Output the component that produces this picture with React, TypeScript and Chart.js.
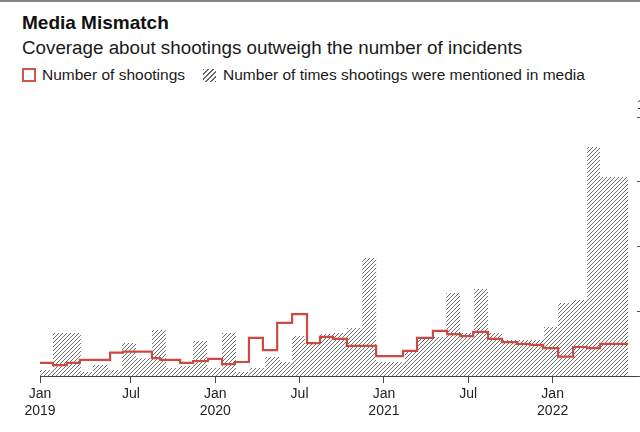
import React, { useEffect, useRef } from "react";
import { Chart, registerables } from "chart.js";

Chart.register(...registerables);

const TITLE = "Media Mismatch";
const SUBTITLE = "Coverage about shootings outweigh the number of incidents";
const LEGEND_SHOOTINGS = "Number of shootings";
const LEGEND_MENTIONS = "Number of times shootings were mentioned in media";

// Step series: week (since start of Jan 2019) at which each level begins, and the level
const shootingWeeks = [0, 4.0, 8.3, 12.3, 21.6, 25.6, 34.5, 37.0, 43.2, 47.2, 51.8, 56.1, 60.1, 64.4, 68.7, 73.1, 77.7, 82.3, 86.3, 90.3, 94.6, 103.6, 111.9, 116.2, 121.1, 125.5, 129.5, 133.5, 138.1, 142.4, 147.0, 151.0, 155.1, 159.7, 164.3, 168.6, 172.6];
const shootingCounts = [51, 42, 51, 62, 90, 94, 69, 62, 51, 58, 66, 46, 54, 147, 100, 205, 239, 127, 151, 143, 116, 77, 97, 147, 174, 162, 154, 170, 143, 131, 124, 120, 108, 75, 112, 108, 124];

const mentionWeeks = [0, 4.0, 12.6, 16.3, 21.0, 25.3, 29.6, 34.5, 38.8, 43.2, 47.2, 51.5, 56.1, 60.4, 64.7, 69.4, 74.0, 77.7, 81.7, 86.3, 90.3, 94.6, 99.3, 103.6, 112.5, 116.5, 125.2, 129.5, 133.8, 138.1, 142.4, 155.4, 159.7, 164.3, 168.6, 172.6];
const mentionCounts = [23, 166, 15, 42, 23, 127, 69, 178, 31, 39, 135, 31, 166, 15, 31, 73, 54, 154, 127, 162, 166, 185, 456, 54, 100, 151, 320, 166, 336, 166, 139, 189, 282, 293, 884, 768];

const lastWeek = 181.3;
const axisEndWeek = 184;

const tickWeeks = [0, 28, 54, 80, 106, 132, 158];
const tickMonths = ["Jan", "Jul", "Jan", "Jul", "Jan", "Jul", "Jan"];
const tickYears = ["2019", "", "2020", "", "2021", "", "2022"];
const yTickValues = [0, 250, 500, 750, 1000];

const FONT = '"Liberation Sans", Arial, Helvetica, sans-serif';

function toSteps(weeks: number[], values: number[]) {
  const pts = weeks.map((w, i) => ({ x: w, y: values[i] }));
  pts.push({ x: lastWeek, y: values[values.length - 1] });
  return pts;
}

function makeHatch(): CanvasPattern | string {
  const s = 4;
  const c = document.createElement("canvas");
  c.width = s;
  c.height = s;
  const g = c.getContext("2d");
  if (!g) return "#999";
  g.strokeStyle = "#5e5e5e";
  g.lineWidth = 0.9;
  g.beginPath();
  g.moveTo(-1, s + 1);
  g.lineTo(s + 1, -1);
  g.moveTo(-1, 1);
  g.lineTo(1, -1);
  g.moveTo(s - 1, s + 1);
  g.lineTo(s + 1, s - 1);
  g.stroke();
  return g.createPattern(c, "repeat") || "#999";
}

export default function App() {
  const ref = useRef<HTMLCanvasElement | null>(null);

  useEffect(() => {
    if (!ref.current) return;
    const hatch = makeHatch();
    const chart = new Chart(ref.current, {
      type: "line",
      data: {
        datasets: [
          {
            label: LEGEND_SHOOTINGS,
            data: toSteps(shootingWeeks, shootingCounts),
            stepped: true,
            borderColor: "#cc4a42",
            borderWidth: 2.2,
            backgroundColor: "#fff",
            fill: false,
            pointRadius: 0,
          },
          {
            label: LEGEND_MENTIONS,
            data: toSteps(mentionWeeks, mentionCounts),
            stepped: true,
            borderColor: "rgba(0,0,0,0)",
            borderWidth: 0,
            backgroundColor: hatch as any,
            fill: "origin",
            pointRadius: 0,
          },
        ],
      },
      options: {
        responsive: false,
        animation: false,
        events: [],
        layout: { padding: { left: 40, right: 33, top: 117, bottom: 0 } },
        plugins: {
          legend: { display: false },
          title: { display: false },
          tooltip: { enabled: false },
        },
        scales: {
          x: {
            type: "linear",
            min: 0,
            max: axisEndWeek,
            afterBuildTicks: (s: any) => {
              s.ticks = tickWeeks.map((v) => ({ value: v }));
            },
            afterFit: (s: any) => {
              s.height = 56;
            },
            grid: { drawOnChartArea: false, drawTicks: true, tickLength: 7, color: "#444", lineWidth: 1 },
            border: { display: true, color: "#444", width: 1 },
            ticks: {
              autoSkip: false,
              maxRotation: 0,
              minRotation: 0,
              padding: 3,
              color: "#222",
              font: { family: FONT, size: 14 },
              callback: (_v: any, i: number) =>
                tickYears[i] ? [tickMonths[i], tickYears[i]] : tickMonths[i],
            },
          },
          y: {
            position: "right",
            min: 0,
            max: 1000,
            afterBuildTicks: (s: any) => {
              s.ticks = yTickValues.map((v) => ({ value: v }));
            },
            afterFit: (s: any) => {
              s.width = 30;
            },
            grid: { drawOnChartArea: false, drawTicks: true, tickLength: 6, color: "#555" },
            border: { display: false },
            ticks: {
              crossAlign: "far",
              padding: -10,
              labelOffset: -11,
              color: "#222",
              font: { family: FONT, size: 12 },
              callback: (v: any) => Number(v).toLocaleString("en-US"),
            },
          },
        },
      },
    });
    return () => chart.destroy();
  }, []);

  return (
    <div
      style={{
        position: "fixed",
        left: 0,
        top: 0,
        width: 640,
        height: 432,
        overflow: "hidden",
        background: "#fff",
        fontFamily: FONT,
        color: "#111",
      }}
    >
      <div style={{ position: "absolute", left: 0, top: 0, width: 640, height: 2, background: "#858585" }} />
      <div style={{ position: "absolute", left: 22, top: 12, fontSize: 19, fontWeight: 700, lineHeight: "22px", whiteSpace: "nowrap" }}>
        {TITLE}
      </div>
      <div style={{ position: "absolute", left: 22, top: 37, fontSize: 18.8, lineHeight: "22px", color: "#1a1a1a", whiteSpace: "nowrap" }}>
        {SUBTITLE}
      </div>
      <div
        style={{
          position: "absolute",
          left: 22,
          top: 66,
          display: "flex",
          alignItems: "center",
          fontSize: 15.5,
          lineHeight: "18px",
          color: "#1a1a1a",
          whiteSpace: "nowrap",
        }}
      >
        <span
          style={{
            display: "inline-block",
            width: 14,
            height: 14,
            boxSizing: "border-box",
            border: "2px solid #d0554d",
            background: "#fff",
            marginRight: 6,
          }}
        />
        <span>{LEGEND_SHOOTINGS}</span>
        <span
          style={{
            display: "inline-block",
            width: 13,
            height: 13,
            marginLeft: 18,
            marginRight: 7,
            background:
              "repeating-linear-gradient(135deg, #666 0px, #666 1px, rgba(255,255,255,0) 1px, rgba(255,255,255,0) 3.5px)",
          }}
        />
        <span>{LEGEND_MENTIONS}</span>
      </div>
      <canvas
        ref={ref}
        width={700}
        height={432}
        style={{ position: "absolute", left: 0, top: 0, width: 700, height: 432 }}
      />
    </div>
  );
}
